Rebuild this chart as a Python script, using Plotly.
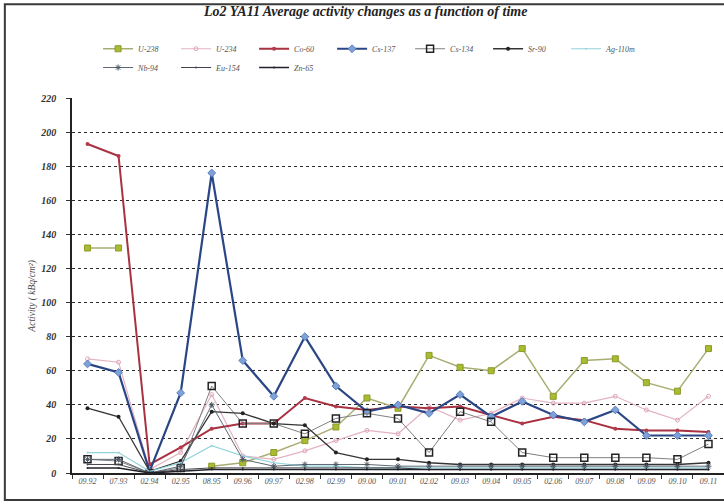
import plotly.graph_objects as go

# Sampling dates (month.year)
dates = ["09.92", "07.93", "02.94", "02.95", "08.95", "09.96", "09.97", "02.98",
         "02.99", "09.00", "09.01", "02.02", "09.03", "09.04", "09.05", "02.06",
         "09.07", "09.08", "09.09", "09.10", "09.11"]

# Average activity per nuclide
u238 = [132, 132, None, None, 4, 6, 12, 19, 27, 44, 38, 69, 62, 60, 73, 45, 66, 67, 53, 48, 73]
u234 = [67, 65, 2, 12, 46, 10, 8, 13, 19, 25, 23, 39, 31, 35, 44, 41, 41, 45, 37, 31, 45]
co60 = [193, 186, 5, 15, 26, 29, 29, 44, 39, 37, 39, 38, 39, 34, 29, 33, 31, 26, 25, 25, 24]
cs137 = [64, 59, 1, 47, 176, 66, 45, 80, 51, 36, 40, 35, 46, 33, 42, 34, 30, 37, 22, 22, 22]
cs134 = [8, 7, 0, 3, 51, 29, 29, 23, 32, 35, 32, 12, 36, 30, 12, 9, 9, 9, 9, 8, 17]
sr90 = [38, 33, 1, 7, 36, 35, 29, 28, 12, 8, 8, 6, 5, 5, 5, 5, 5, 5, 5, 5, 6]
ag110m = [12, 12, 1, 6, 16, 10, 6, 4, 4, 3, 3, 3, 3, 3, 3, 3, 3, 3, 3, 3, 3]
nb94 = [8, 8, 0, 4, 40, 8, 4, 5, 5, 5, 4, 4, 4, 4, 4, 4, 4, 4, 4, 4, 4]
eu154 = [5, 5, 0, 2, 3, 3, 3, 3, 3, 3, 3, 2, 2, 2, 2, 2, 2, 2, 2, 2, 2]
zn65 = [3, 3, 0, 1, 2, 2, 2, 2, 2, 2, 2, 2, 2, 2, 2, 2, 2, 2, 2, 2, 2]

y_ticks = [0, 20, 40, 60, 80, 100, 120, 140, 160, 180, 200, 220]

SERIF = "Liberation Serif"

# name, values, line style, marker style, legend row
series = [
    ("U-238", u238, dict(color="#a9ad72", width=1.5), dict(symbol="square", size=6, color="#a9bb2e", line=dict(color="#8d9a2c", width=1)), "legend"),
    ("U-234", u234, dict(color="#e3b3c0", width=1.2), dict(symbol="circle-open", size=4, color="#e0a6b6"), "legend"),
    ("Co-60", co60, dict(color="#a83242", width=2), dict(symbol="circle", size=4, color="#b33a4a"), "legend"),
    ("Cs-137", cs137, dict(color="#2b4684", width=2.2), dict(symbol="diamond", size=6, color="#7ea2d8", line=dict(color="#5a7fc0", width=1)), "legend"),
    ("Cs-134", cs134, dict(color="#808080", width=1), dict(symbol="square-open", size=7, color="#222222", line=dict(width=1.5)), "legend"),
    ("Sr-90", sr90, dict(color="#353535", width=1.3), dict(symbol="circle", size=4, color="#222222"), "legend"),
    ("Ag-110m", ag110m, dict(color="#92d3dc", width=1.2), dict(symbol="circle", size=2, color="#92d3dc"), "legend"),
    ("Nb-94", nb94, dict(color="#5d6874", width=1), dict(symbol="asterisk-open", size=5, color="#4d5866"), "legend2"),
    ("Eu-154", eu154, dict(color="#44444c", width=1), dict(symbol="circle", size=2, color="#44444c"), "legend2"),
    ("Zn-65", zn65, dict(color="#22222a", width=1.5), dict(symbol="circle", size=2, color="#22222a"), "legend2"),
]

fig = go.Figure()
for name, vals, line, marker, leg in series:
    fig.add_trace(go.Scatter(
        x=dates, y=vals, name=name, mode="lines+markers",
        line=line, marker=marker, connectgaps=False, legend=leg,
    ))

legend_style = dict(
    orientation="h", xanchor="left", yanchor="top",
    font=dict(family=SERIF, size=8, color="#555555", style="italic"),
    entrywidth=33, entrywidthmode="pixels", tracegroupgap=0,
    bgcolor="rgba(0,0,0,0)",
)

fig.update_layout(
    width=724, height=504,
    margin=dict(l=72, r=0, t=98, b=31),
    paper_bgcolor="white", plot_bgcolor="white",
    font=dict(family=SERIF, color="#333333"),
    showlegend=True,
    legend=dict(legend_style, x=0.04, y=1.17),
    legend2=dict(legend_style, x=0.04, y=1.12),
    xaxis=dict(
        type="category", range=[-0.5, 20.5],
        showline=True, linecolor="#222222", linewidth=1.5,
        ticks="outside", ticklen=4, tickcolor="#333333", tickson="boundaries",
        tickfont=dict(family=SERIF, size=8, color="#555555", style="italic"),
        tickangle=0, showgrid=False, zeroline=False,
    ),
    yaxis=dict(
        range=[0, 220], tickvals=y_ticks, ticktext=[str(v) for v in y_ticks],
        showline=True, linecolor="#222222", linewidth=1.5,
        ticks="outside", ticklen=4, tickcolor="#333333",
        tickfont=dict(family=SERIF, size=10, color="#333333", style="italic", weight="bold"),
        ticklabelstandoff=8,
        showgrid=True, gridcolor="#2a2a2a", gridwidth=1, griddash="3px,3px",
        zeroline=False,
    ),
    annotations=[
        dict(text="<b><i>Lo2 YA11 Average activity changes as a function of time</i></b>",
             xref="paper", yref="paper", x=0.449, y=1.23, xanchor="center", yanchor="middle",
             showarrow=False, font=dict(family=SERIF, size=14, color="#222222")),
        dict(text="<i>Activity ( kBq/cm²)</i>",
             xref="paper", yref="paper", x=-0.06, y=0.47, xanchor="center", yanchor="middle",
             textangle=-90, showarrow=False, font=dict(family=SERIF, size=9.5, color="#444444")),
    ],
    shapes=[
        dict(type="rect", xref="paper", yref="paper", x0=-0.103, x1=1.05, y0=-0.072, y1=1.25,
             line=dict(color="#3a3a3a", width=2), fillcolor="rgba(0,0,0,0)", layer="below"),
    ],
)

fig.write_html("out.html")
